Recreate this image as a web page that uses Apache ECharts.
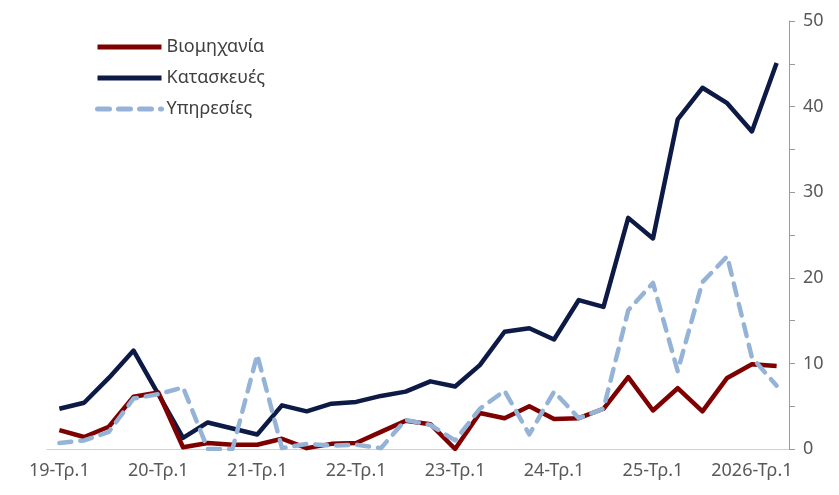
<!DOCTYPE html>
<html>
<head>
<meta charset="utf-8">
<script src="https://cdn.jsdelivr.net/npm/echarts@6/dist/echarts.min.js"></script>
<style>
  html, body { margin: 0; padding: 0; background: #fff; }
  #chart { width: 839px; height: 495px; }
</style>
</head>
<body>
<div id="chart"></div>
<script>
// τρίμηνα 2019-Τρ.1 ... 2026-Τρ.2
var quarters = [
  '19-Τρ.1', '19-Τρ.2', '19-Τρ.3', '19-Τρ.4',
  '20-Τρ.1', '20-Τρ.2', '20-Τρ.3', '20-Τρ.4',
  '21-Τρ.1', '21-Τρ.2', '21-Τρ.3', '21-Τρ.4',
  '22-Τρ.1', '22-Τρ.2', '22-Τρ.3', '22-Τρ.4',
  '23-Τρ.1', '23-Τρ.2', '23-Τρ.3', '23-Τρ.4',
  '24-Τρ.1', '24-Τρ.2', '24-Τρ.3', '24-Τρ.4',
  '25-Τρ.1', '25-Τρ.2', '25-Τρ.3', '25-Τρ.4',
  '2026-Τρ.1', '2026-Τρ.2'
];

var industry = [
  2.2, 1.4, 2.6, 6.1, 6.6, 0.2, 0.7, 0.5, 0.5, 1.2,
  0.1, 0.6, 0.7, 2.0, 3.3, 2.9, 0.0, 4.2, 3.6, 5.0,
  3.5, 3.6, 4.7, 8.4, 4.5, 7.1, 4.4, 8.3, 9.9, 9.7
];

var construction = [
  4.7, 5.4, 8.3, 11.5, 6.4, 1.3, 3.1, 2.4, 1.7, 5.1,
  4.4, 5.3, 5.5, 6.2, 6.7, 7.9, 7.3, 9.8, 13.7, 14.1,
  12.8, 17.4, 16.6, 27.0, 24.6, 38.5, 42.2, 40.4, 37.1, 45.1
];

var services = [
  0.7, 1.0, 2.0, 5.9, 6.4, 7.2, 0.0, 0.0, 11.0, 0.1,
  0.6, 0.4, 0.5, 0.1, 3.4, 2.8, 1.0, 4.7, 6.8, 1.7,
  6.7, 3.6, 4.7, 16.2, 19.4, 9.1, 19.5, 22.5, 10.7, 7.4
];

var yTicks = [0, 10, 20, 30, 40, 50];

var chart = echarts.init(document.getElementById('chart'));

var fontFam = '"Noto Sans", "DejaVu Sans", sans-serif';

chart.setOption({
  animation: false,
  backgroundColor: '#ffffff',
  grid: { left: 47, right: 50, top: 21, bottom: 46 },
  legend: {
    orient: 'vertical',
    left: 90,
    top: 33,
    itemWidth: 64,
    itemHeight: 14,
    itemGap: 13,
    itemStyle: { opacity: 0 },
    lineStyle: { width: 5 },
    textStyle: { color: '#404040', fontSize: 18, fontFamily: fontFam },
    data: ['Βιομηχανία', 'Κατασκευές', 'Υπηρεσίες']
  },
  xAxis: {
    type: 'category',
    data: quarters,
    boundaryGap: true,
    axisLine: { lineStyle: { color: '#d0d0d0', width: 1 } },
    axisTick: { show: false },
    axisLabel: {
      interval: 3,
      color: '#595959',
      fontSize: 18,
      fontFamily: fontFam,
      margin: 13
    }
  },
  yAxis: {
    type: 'value',
    position: 'right',
    min: 0,
    max: 50,
    interval: 5,
    splitLine: { show: false },
    axisLine: { show: true, lineStyle: { color: '#9a9a9a', width: 1 } },
    axisTick: { show: true, length: 6, lineStyle: { color: '#9a9a9a' } },
    axisLabel: {
      color: '#595959',
      fontSize: 18,
      fontFamily: fontFam,
      margin: 14,
      formatter: function (v) {
        return yTicks.indexOf(v) >= 0 ? String(v) : '';
      }
    }
  },
  series: [
    {
      name: 'Βιομηχανία',
      type: 'line',
      data: industry,
      symbol: 'none',
      z: 3,
      lineStyle: { color: '#7f0000', width: 4.5, join: 'round' },
      itemStyle: { color: '#7f0000' }
    },
    {
      name: 'Κατασκευές',
      type: 'line',
      data: construction,
      symbol: 'none',
      z: 2,
      lineStyle: { color: '#0c1a45', width: 4.5, join: 'round' },
      itemStyle: { color: '#0c1a45' }
    },
    {
      name: 'Υπηρεσίες',
      type: 'line',
      data: services,
      symbol: 'none',
      z: 4,
      lineStyle: { color: '#95b3d7', width: 4.5, type: [12, 9], cap: 'round', join: 'round' },
      itemStyle: { color: '#95b3d7' }
    }
  ]
});
</script>
</body>
</html>
